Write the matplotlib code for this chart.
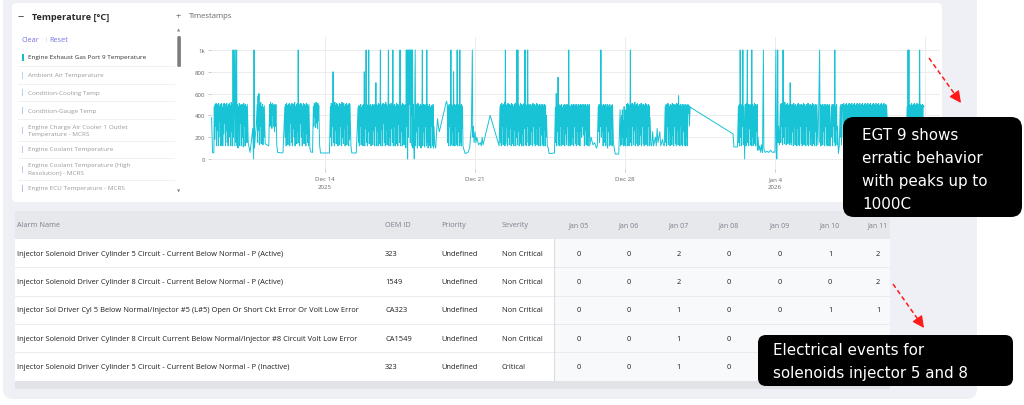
import matplotlib
matplotlib.use("Agg")
import matplotlib.pyplot as plt
from matplotlib.patches import FancyBboxPatch, Rectangle

FONT = ['Open Sans', 'DejaVu Sans']
CALLOUT_FONT = ['DejaVu Sans']
plt.rcParams['font.family'] = FONT

# ---------------------------------------------------------------- data
panel_title = "Temperature [°C]"
series_names = [
    "Engine Exhaust Gas Port 9 Temperature",
    "Ambient Air Temperature",
    "Condition-Cooling Temp",
    "Condition-Gauge Temp",
    "Engine Charge Air Cooler 1 Outlet\nTemperature - MCRS",
    "Engine Coolant Temperature",
    "Engine Coolant Temperature (High\nResolution) - MCRS",
    "Engine ECU Temperature - MCRS",
]
series_colors = ["#19b9c9", "#a6dde7", "#9edbe0", "#a9cdea",
                 "#c3c3ee", "#c3c3ee", "#c6c6ec", "#c6b6f0"]

# x axis: hours since Dec 8 2025 00:00 (the Jan 11 label is hidden behind the callout)
tick_hours = [144, 312, 480, 648, 816]
tick_labels = ["Dec 14\n2025", "Dec 21", "Dec 28", "Jan 4\n2026", ""]
y_ticks = [0, 200, 400, 600, 800, 1000]
y_tick_labels = ["0", "200", "400", "600", "800", "1k"]

# Engine Exhaust Gas Port 9 Temperature, (hour, degC)
egt_dec08_14 = [
    (17, 380), (18, 60), (19, 55), (19.5, 60),
    (20, 480), (20.5, 180), (21, 500), (21.5, 300), (22, 510), (22.5, 120), (23, 490), (23.5, 260),
    (24, 500), (24.5, 120), (25, 510), (25.5, 350), (26, 480), (26.5, 200), (27, 500), (27.5, 120),
    (28, 510), (28.5, 280), (29, 470), (29.5, 120), (30, 500), (30.5, 230), (31, 510), (31.5, 330),
    (32, 490), (32.5, 120), (33, 500), (33.5, 260), (34, 510), (34.5, 150), (35, 480), (35.5, 120),
    (36, 500), (36.5, 300), (37, 510), (37.5, 200), (38, 490), (38.5, 120), (39, 520), (39.5, 250),
    (40, 500), (40.5, 120),
    (41, 1000), (41.5, 200), (42, 1000), (42.5, 700), (43, 120), (43.5, 600), (44, 1000), (44.5, 150),
    (45, 1000), (45.5, 120),
    (46, 500), (46.5, 100), (47, 480), (47.5, 250), (48, 510), (48.5, 120), (49, 490), (49.5, 330),
    (50, 500), (50.5, 120), (51, 470), (51.5, 200), (52, 500), (52.5, 110), (53, 510), (53.5, 300),
    (54, 490), (54.5, 120), (55, 500), (55.5, 280), (56, 480), (56.5, 150), (57, 500),
    (58, 150), (60, 60), (62, 200), (63, 280), (64, 0), (64.5, 1000), (65, 100), (66, 220), (67, 300),
    (68, 500), (68.5, 150), (69, 580), (69.5, 260), (70, 600), (70.5, 130), (71, 500), (71.5, 300),
    (72, 520), (72.5, 140), (73, 480), (73.5, 250), (74, 500), (74.5, 130), (75, 470), (75.5, 200),
    (76, 490), (77, 140), (79, 130), (81, 120),
    (82, 500), (82.5, 300), (83, 520), (83.5, 350), (84, 500), (84.5, 280), (85, 510), (85.5, 400),
    (86, 490), (86.5, 300), (87, 500), (87.5, 250), (88, 480), (88.5, 300), (89, 500),
    (90, 120), (91, 60), (96, 55), (97, 60),
    (99, 480), (99.5, 200), (100, 500), (100.5, 120), (101, 510), (101.5, 300), (102, 490), (102.5, 130),
    (103, 500), (103.5, 250), (104, 510), (104.5, 120), (105, 480), (105.5, 330), (106, 500), (106.5, 150),
    (107, 510), (107.5, 120), (108, 490), (108.5, 280), (109, 500), (109.5, 200), (110, 520), (110.5, 120),
    (111, 480), (111.5, 300), (112, 500), (112.5, 140), (113, 510), (113.5, 250), (114, 1000), (114.5, 150),
    (115, 500), (115.5, 120), (116, 490), (116.5, 330), (117, 510), (117.5, 200), (118, 500), (118.5, 120),
    (119, 480), (119.5, 260), (120, 510), (120.5, 140), (121, 500), (121.5, 300), (122, 490), (122.5, 120),
    (123, 510), (123.5, 230), (124, 500), (124.5, 150), (125, 480), (125.5, 120), (126, 500),
    (127, 100), (128, 65), (130, 60),
    (131, 480), (131.5, 300), (132, 510), (132.5, 380), (133, 500), (133.5, 290), (134, 520), (134.5, 330),
    (135, 500), (135.5, 280), (136, 510), (136.5, 350), (137, 490),
    (138, 120), (139, 55), (149, 55),
]
egt_dec14_21 = [
    (150, 480), (150.5, 200), (151, 510), (151.5, 120), (152, 500), (152.5, 300), (153, 800), (153.5, 150),
    (154, 500), (154.5, 120), (155, 520), (155.5, 260), (156, 490), (156.5, 140), (157, 510), (157.5, 330),
    (158, 500), (158.5, 120), (159, 480), (159.5, 250), (160, 510), (160.5, 130), (161, 500), (161.5, 300),
    (162, 490), (162.5, 120), (163, 520), (163.5, 200), (164, 500), (164.5, 140), (165, 510), (165.5, 280),
    (166, 480), (166.5, 120), (167, 500), (167.5, 230), (168, 510), (168.5, 130), (169, 490), (169.5, 320),
    (170, 500), (170.5, 120), (171, 510), (171.5, 180), (172, 500),
    (173, 120), (174, 55), (179, 55),
    (181, 470), (181.5, 150), (182, 490), (182.5, 120), (183, 480), (183.5, 300), (184, 500), (184.5, 130),
    (185, 470), (185.5, 250), (186, 490), (186.5, 120), (187, 500), (187.5, 200), (188, 800), (188.5, 120),
    (189, 490), (189.5, 280), (190, 1000), (190.5, 150), (191, 500), (191.5, 120), (192, 480), (192.5, 250),
    (193, 1000), (193.5, 140), (194, 490), (194.5, 300), (195, 500), (195.5, 120), (196, 480), (196.5, 200),
    (197, 500), (197.5, 130), (198, 490), (198.5, 260), (199, 500), (199.5, 120), (200, 480), (200.5, 300),
    (201, 700), (201.5, 120),
    (202, 500), (202.5, 250), (203, 490), (203.5, 120), (204, 510), (204.5, 300), (205, 500), (205.5, 140),
    (206, 1000), (206.5, 120), (207, 480), (207.5, 270), (208, 500), (208.5, 120), (209, 510), (209.5, 330),
    (210, 490), (210.5, 150), (211, 500), (211.5, 120), (212, 520), (212.5, 260), (213, 500), (213.5, 130),
    (214, 480), (214.5, 300), (215, 1000), (215.5, 120), (216, 500), (216.5, 200), (217, 490), (217.5, 120),
    (218, 510), (218.5, 280), (219, 500), (219.5, 150), (220, 1000), (220.5, 120), (221, 490), (221.5, 300),
    (222, 500), (222.5, 120), (223, 480), (223.5, 250), (224, 510), (224.5, 140), (225, 500), (225.5, 120),
    (226, 490), (226.5, 320), (227, 500), (227.5, 150), (228, 1000), (228.5, 120), (229, 500), (229.5, 250),
    (230, 480), (230.5, 120), (231, 510), (231.5, 200), (232, 500), (232.5, 130), (233, 490), (233.5, 280),
    (234, 500), (234.5, 100),
    (235, 1000), (235.5, 300), (236, 1000), (236.5, 0), (237, 1000), (237.5, 200), (238, 1000), (238.5, 500),
    (239, 1000), (239.5, 150), (240, 1000), (240.5, 400), (241, 1000), (241.5, 120), (242, 1000), (242.5, 100),
    (243, 500), (243.5, 150), (244, 0), (244.5, 480), (245, 1000), (245.5, 120), (246, 500), (246.5, 250),
    (247, 490), (247.5, 100), (248, 510), (248.5, 300), (249, 500), (249.5, 120), (250, 480), (250.5, 200),
    (251, 500), (251.5, 100), (252, 490), (252.5, 280), (253, 1000), (253.5, 120), (254, 500), (254.5, 250),
    (255, 480), (255.5, 110), (256, 500), (256.5, 300), (257, 490), (257.5, 120), (258, 1000), (258.5, 150),
    (259, 500), (259.5, 100), (260, 480), (260.5, 260), (261, 500), (261.5, 120), (262, 470), (262.5, 100),
    (263, 490), (263.5, 300), (264, 480), (264.5, 120), (265, 500), (265.5, 100), (266, 300), (267, 120),
    (268, 100), (269, 250), (270, 370), (271, 300), (272, 250), (280, 530),
    (281, 500), (281.5, 150), (282, 480), (282.5, 120), (283, 500), (283.5, 300), (284, 490), (284.5, 120),
    (285, 1000), (285.5, 130), (286, 500), (286.5, 250), (287, 480), (287.5, 120), (288, 800), (288.5, 200),
    (289, 500), (289.5, 120), (290, 490), (290.5, 300), (291, 500), (291.5, 130), (292, 1000), (292.5, 120),
    (293, 480), (293.5, 250), (294, 500), (294.5, 120), (295, 1000), (295.5, 150), (296, 490), (296.5, 120),
    (297, 500), (297.5, 280), (298, 480), (298.5, 120),
    (299, 100), (301, 50), (304, 60), (306, 100),
    (308, 300), (309, 1000), (309.5, 200), (310, 300), (311, 150),
]
egt_dec21_28 = [
    (312, 250), (313, 150), (314, 200), (316, 130), (318, 150),
    (319, 120), (320, 200), (321, 130), (329, 400), (339, 120),
    (340, 480), (340.5, 150), (341, 500), (341.5, 120), (342, 510), (342.5, 300), (343, 490), (343.5, 130),
    (344, 500), (344.5, 250), (345, 520), (345.5, 120), (346, 1000), (346.5, 140), (347, 490), (347.5, 300),
    (348, 500), (348.5, 120), (349, 510), (349.5, 200), (350, 480), (350.5, 130), (351, 500), (351.5, 280),
    (352, 490), (352.5, 120), (353, 510), (353.5, 320), (354, 500), (354.5, 140), (355, 480), (355.5, 120),
    (356, 500), (356.5, 260), (357, 510), (357.5, 120), (358, 490), (358.5, 200), (359, 1000), (359.5, 130),
    (360, 1000), (360.5, 250), (361, 500), (361.5, 120), (362, 480), (362.5, 300), (363, 510), (363.5, 140),
    (364, 500), (364.5, 120), (365, 490), (365.5, 230), (366, 500), (366.5, 120), (367, 510), (367.5, 280),
    (368, 1000), (368.5, 130), (369, 500), (369.5, 120), (370, 480), (370.5, 300), (371, 1000), (371.5, 150),
    (372, 500), (372.5, 120), (373, 490),
    (374, 500), (374.5, 130), (375, 480), (375.5, 250), (376, 500), (376.5, 120), (377, 510), (377.5, 300),
    (378, 490), (378.5, 140), (379, 500), (379.5, 120), (380, 480), (380.5, 280), (381, 510), (381.5, 130),
    (382, 500), (382.5, 200), (383, 490), (383.5, 120), (384, 500), (384.5, 300), (385, 480), (385.5, 120),
    (386, 500), (386.5, 220), (387, 490), (387.5, 130), (388, 500), (388.5, 120), (389, 480), (389.5, 260),
    (390, 500), (390.5, 120), (391, 490), (391.5, 200), (392, 400), (393, 120), (394, 100), (395, 50),
    (396, 50), (401, 55),
    (402, 470), (402.5, 150), (403, 600), (403.5, 120), (404, 490), (404.5, 250), (405, 750), (405.5, 130),
    (406, 500), (406.5, 120), (407, 480), (407.5, 300), (408, 490), (408.5, 120), (409, 500), (409.5, 200),
    (410, 470), (410.5, 130), (411, 490), (411.5, 280), (412, 500), (412.5, 120), (413, 480), (413.5, 230),
    (414, 500), (414.5, 130), (415, 490), (415.5, 300), (416, 500), (416.5, 120), (417, 1000), (417.5, 150),
    (418, 490), (418.5, 120), (419, 480), (419.5, 260), (420, 500), (420.5, 130), (421, 490), (421.5, 200),
    (422, 500), (422.5, 120), (423, 480), (423.5, 300), (424, 500), (424.5, 140), (425, 490), (425.5, 120),
    (426, 500), (426.5, 250), (427, 480), (427.5, 130), (428, 500), (428.5, 200), (429, 490), (429.5, 120),
    (430, 500), (430.5, 250), (431, 490), (431.5, 200), (432, 500), (432.5, 300), (433, 480), (433.5, 220),
    (434, 500), (434.5, 120), (435, 490), (435.5, 260), (436, 500), (436.5, 130), (437, 480), (437.5, 300),
    (438, 500), (438.5, 120), (439, 490), (439.5, 200), (440, 500), (440.5, 120),
    (442, 200), (444, 130), (446, 150), (448, 100), (449, 120),
    (450, 480), (450.5, 250), (451, 500), (451.5, 150), (452, 490), (452.5, 300), (453, 1000), (453.5, 200),
    (454, 500), (454.5, 250), (455, 480), (455.5, 120), (456, 500), (456.5, 300), (457, 490), (457.5, 150),
    (458, 500), (458.5, 120), (459, 470), (459.5, 300), (460, 500), (460.5, 100), (461, 490), (461.5, 250),
    (462, 480), (462.5, 120), (463, 500), (463.5, 130), (464, 470), (464.5, 280), (465, 490), (465.5, 120),
    (466, 500), (467, 150), (468, 100), (469, 45), (473, 45),
    (474, 300), (474.5, 450), (475, 120), (476, 400), (476.5, 130), (477, 450), (477.5, 200), (478, 350),
    (478.5, 120), (479, 480), (479.5, 130),
]
egt_dec28_jan04 = [
    (480, 300), (480.5, 120), (481, 450), (481.5, 200), (482, 500), (482.5, 120), (483, 510), (483.5, 300),
    (484, 500), (484.5, 120), (485, 490), (485.5, 250), (486, 1000), (486.5, 150), (487, 500), (487.5, 120),
    (488, 510), (488.5, 300), (489, 490), (489.5, 130), (490, 500), (490.5, 260), (491, 520), (491.5, 120),
    (492, 490), (492.5, 300), (493, 500), (493.5, 140), (494, 510), (494.5, 120), (495, 480), (495.5, 280),
    (496, 500), (496.5, 130), (497, 490), (497.5, 220), (498, 510), (498.5, 120), (499, 500), (499.5, 300),
    (500, 480), (500.5, 140), (501, 500), (501.5, 120), (502, 490), (502.5, 250), (503, 510), (503.5, 130),
    (504, 500), (504.5, 200), (505, 480), (505.5, 120), (506, 500), (506.5, 300), (507, 490), (507.5, 120),
    (508, 380), (509, 130),
    (510, 120), (511, 250), (512, 120), (514, 200), (515, 120), (516, 280), (517, 150), (519, 250),
    (520, 120), (522, 180), (523, 130), (524, 120),
    (525, 480), (525.5, 150), (526, 500), (526.5, 120), (527, 490), (527.5, 300), (528, 510), (528.5, 130),
    (529, 500), (529.5, 250), (530, 480), (530.5, 120), (531, 500), (531.5, 280), (532, 490), (532.5, 130),
    (533, 510), (533.5, 220), (534, 500), (534.5, 120), (535, 480), (535.5, 300), (536, 500), (536.5, 140),
    (537, 490), (537.5, 120), (538, 510), (538.5, 260), (539, 500), (539.5, 130), (540, 580), (540.5, 200),
    (541, 490), (541.5, 120), (542, 500), (542.5, 300), (543, 480), (543.5, 130), (544, 500), (544.5, 120),
    (545, 490), (545.5, 250), (546, 500), (546.5, 130), (547, 480), (547.5, 120), (548, 500), (548.5, 200),
    (549, 490), (549.5, 120),
    (550, 400), (550.5, 500), (551, 420), (551.5, 490), (552, 300), (553, 480), (554, 470),
    (601, 230), (602, 110), (606, 110),
    (607, 480), (607.5, 150), (608, 500), (608.5, 120), (609, 1000), (609.5, 200), (610, 490), (610.5, 120),
    (611, 500), (611.5, 300), (612, 1000), (612.5, 130), (613, 480), (613.5, 250), (614, 0), (614.5, 500),
    (615, 490), (615.5, 120), (616, 510), (616.5, 300), (617, 1000), (617.5, 150), (618, 500), (618.5, 120),
    (619, 480), (619.5, 280), (620, 500), (620.5, 130), (621, 490), (621.5, 120), (622, 1000), (622.5, 200),
    (623, 500), (623.5, 120), (624, 480), (624.5, 300), (625, 510), (625.5, 140), (626, 500), (626.5, 120),
    (627, 490), (627.5, 250), (628, 500), (628.5, 80), (629, 200), (630, 80), (631, 120), (632, 60),
    (633, 130), (634, 60), (635, 1000), (635.5, 100), (636, 80), (637, 60), (639, 70), (641, 60),
    (643, 80), (645, 60), (647, 65), (648, 60),
]
egt_jan04_11 = [
    (649, 1000), (649.5, 100), (650, 0), (650.5, 200), (651, 1000), (651.5, 150), (652, 300), (653, 130),
    (654, 500), (654.5, 150), (655, 510), (655.5, 300), (656, 490), (656.5, 130), (657, 1000), (657.5, 200),
    (658, 500), (658.5, 140), (659, 520), (659.5, 300), (660, 490), (660.5, 130), (661, 500), (661.5, 250),
    (662, 510), (662.5, 140), (663, 490), (663.5, 300), (664, 500), (664.5, 130), (665, 700), (665.5, 150),
    (666, 500), (666.5, 130),
    (667, 480), (667.5, 250), (668, 500), (668.5, 120), (669, 510), (669.5, 300), (670, 490), (670.5, 130),
    (671, 500), (671.5, 220), (672, 480), (672.5, 120), (673, 500), (673.5, 280), (674, 510), (674.5, 130),
    (675, 490), (675.5, 120), (676, 500), (676.5, 300), (677, 480), (677.5, 140), (678, 500), (678.5, 120),
    (679, 490), (679.5, 250), (680, 510), (680.5, 130), (681, 500), (681.5, 200), (682, 480), (682.5, 120),
    (683, 500), (683.5, 300), (684, 490), (684.5, 130), (685, 510), (685.5, 120), (686, 500), (686.5, 260),
    (687, 480), (687.5, 130), (688, 500), (688.5, 200), (689, 490), (689.5, 120), (690, 510), (690.5, 300),
    (691, 500), (691.5, 140), (692, 480), (692.5, 120), (693, 500), (693.5, 250), (694, 490), (694.5, 120),
    (695, 500), (696, 130),
    (697, 480), (698, 1000), (698.5, 150), (699, 500), (699.5, 120), (700, 490), (700.5, 280), (701, 500),
    (701.5, 130), (702, 480), (702.5, 250), (703, 500), (703.5, 120), (704, 490), (704.5, 300), (705, 500),
    (705.5, 130), (706, 480), (706.5, 120), (707, 500), (707.5, 200), (708, 490), (708.5, 120), (709, 500),
    (710, 120), (711, 480), (711.5, 200), (712, 500), (712.5, 120), (713, 490), (713.5, 300), (714, 500),
    (714.5, 150), (715, 1000), (715.5, 120), (716, 480), (716.5, 260), (717, 500), (717.5, 130), (718, 300),
    (719, 50), (720, 120), (721, 480), (721.5, 200), (722, 500), (722.5, 130), (723, 490),
    (724, 500), (724.5, 200), (725, 510), (725.5, 150), (726, 490), (726.5, 300), (727, 500), (727.5, 180),
    (728, 510), (728.5, 250), (729, 490), (729.5, 150), (730, 500), (730.5, 330), (731, 510), (731.5, 200),
    (732, 490), (732.5, 160), (733, 500), (733.5, 300), (734, 510), (734.5, 180), (735, 490), (735.5, 250),
    (736, 500), (736.5, 160), (737, 510), (737.5, 320), (738, 490), (738.5, 200), (739, 500), (739.5, 150),
    (740, 510), (740.5, 280), (741, 490), (741.5, 180), (742, 500), (742.5, 300), (743, 510), (743.5, 160),
    (744, 490), (744.5, 250), (745, 500), (745.5, 200), (746, 510), (746.5, 150), (747, 490), (747.5, 320),
    (748, 500), (748.5, 180), (749, 510), (749.5, 260), (750, 490), (750.5, 160), (751, 500), (751.5, 300),
    (752, 510), (752.5, 200), (753, 490), (753.5, 150), (754, 500), (754.5, 280), (755, 510), (755.5, 180),
    (756, 490), (756.5, 250), (757, 500), (757.5, 160), (758, 510), (758.5, 300), (759, 490), (759.5, 200),
    (760, 500), (760.5, 150), (761, 510), (761.5, 270), (762, 490), (762.5, 180), (763, 500), (763.5, 300),
    (764, 510), (764.5, 160), (765, 490), (765.5, 240), (766, 500), (766.5, 200), (767, 510), (767.5, 150),
    (768, 490), (768.5, 300), (769, 500), (769.5, 180), (770, 510), (770.5, 250), (771, 490), (771.5, 160),
    (772, 500), (772.5, 300), (773, 490), (774, 300),
    (776, 150), (780, 120), (790, 120), (795, 150),
    (796, 480), (796.5, 250), (797, 1000), (797.5, 300), (798, 1000), (798.5, 200), (799, 500), (799.5, 250),
    (800, 490), (800.5, 220), (801, 510), (801.5, 300), (802, 490), (802.5, 200), (803, 500), (803.5, 280),
    (804, 510), (804.5, 230), (805, 490), (805.5, 300), (806, 500), (806.5, 220), (807, 510), (807.5, 260),
    (808, 490), (808.5, 200), (809, 500), (809.5, 300), (810, 1000), (810.5, 250), (811, 500), (811.5, 220),
    (812, 490), (812.5, 300), (813, 500), (813.5, 250), (814, 490), (815, 480),
]

table_columns = ["Alarm Name", "OEM ID", "Priority", "Severity"]
date_columns = ["Jan 05", "Jan 06", "Jan 07", "Jan 08", "Jan 09", "Jan 10", "Jan 11"]
alarm_names = [
    "Injector Solenoid Driver Cylinder 5 Circuit - Current Below Normal - P (Active)",
    "Injector Solenoid Driver Cylinder 8 Circuit - Current Below Normal - P (Active)",
    "Injector Sol Driver Cyl 5 Below Normal/Injector #5 (L#5) Open Or Short Ckt Error Or Volt Low Error",
    "Injector Solenoid Driver Cylinder 8 Circuit Current Below Normal/Injector #8 Circuit Volt Low Error",
    "Injector Solenoid Driver Cylinder 5 Circuit - Current Below Normal - P (Inactive)",
]
oem_ids = ["323", "1549", "CA323", "CA1549", "323"]
priorities = ["Undefined"] * 5
severities = ["Non Critical", "Non Critical", "Non Critical", "Non Critical", "Critical"]
# None = cell hidden behind the callout in the screenshot
daily_counts = [
    [0, 0, 2, 0, 0, 1, 2],
    [0, 0, 2, 0, 0, 0, 2],
    [0, 0, 1, 0, 0, 1, 1],
    [0, 0, 1, 0, None, None, None],
    [0, 0, 1, 0, None, None, None],
]

callout_egt = ["EGT 9 shows", "erratic behavior", "with peaks up to", "1000C"]
callout_alarm = ["Electrical events for", "solenoids injector 5 and 8"]

# ---------------------------------------------------------------- figure
W, H = 1024, 406
fig = plt.figure(figsize=(W / 100, H / 100), dpi=100)
fig.patch.set_facecolor("white")

bg = fig.add_axes([0, 0, 1, 1], zorder=0)
bg.set_xlim(0, W)
bg.set_ylim(H, 0)
bg.axis("off")


def rbox(ax, x, y, w, h, r, fc, z=1):
    ax.add_patch(FancyBboxPatch((x, y), w, h, boxstyle=f"round,pad=0,rounding_size={r}",
                                fc=fc, ec="none", zorder=z))


# outer grey panel and white chart card
rbox(bg, 3, -20, 974, 420, 10, "#eef0f5", 0)
rbox(bg, 12, 4, 930, 199, 5, "white", 1)

# panel header
bg.text(17, 17, "−", fontsize=8, color="#333", va="center", ha="left", family=FONT, zorder=3)
bg.text(32, 17, panel_title, fontsize=6.6, fontweight="bold", color="#2a2a2a", va="center", zorder=3)
bg.text(176, 17, "+", fontsize=6.8, color="#777", va="center", zorder=3)
bg.text(188.5, 17, "Timestamps", fontsize=5.5, color="#666", va="center", zorder=3)
bg.text(22, 40, "Clear", fontsize=5.2, color="#7474e8", va="center", zorder=3)
bg.text(44, 40, "|", fontsize=4.5, color="#bbb", va="center", zorder=3)
bg.text(49, 40, "Reset", fontsize=5.2, color="#7474e8", va="center", zorder=3)

# legend list
item_y = [58, 76, 93, 111, 131, 150, 170, 189]
sep_y = [67, 85, 102, 120, 142, 159, 181]
for yy in sep_y:
    bg.plot([18, 174], [yy, yy], color="#efefef", lw=0.6, zorder=2)
for i, (name, col) in enumerate(zip(series_names, series_colors)):
    yc = item_y[i]
    bw = 2.0 if i == 0 else 1.4
    bg.add_patch(Rectangle((21.5, yc - 3.5), bw, 7, fc=col, ec="none", zorder=3))
    lines = name.split("\n")
    n = len(lines)
    for j, line in enumerate(lines):
        bg.text(28, yc + (j - (n - 1) / 2) * 8, line, fontsize=4.55,
                color="#333" if i == 0 else "#9b9b9b", va="center", zorder=3)
# scrollbar
bg.text(179, 31, "▲", fontsize=3, color="#888", ha="center", va="center", family=FONT, zorder=3)
bg.text(179, 192, "▼", fontsize=3, color="#888", ha="center", va="center", family=FONT, zorder=3)
rbox(bg, 177.3, 37, 3.6, 31, 1.5, "#7d7d7d", 3)

# ---------------------------------------------------------------- chart
hours, temps = zip(*(egt_dec08_14 + egt_dec14_21 + egt_dec21_28 + egt_dec28_jan04 + egt_jan04_11))

ax_l, ax_r, ax_t, ax_b = 211, 940, 38, 170
ax = fig.add_axes([ax_l / W, 1 - ax_b / H, (ax_r - ax_l) / W, (ax_b - ax_t) / H], zorder=2)
ax.set_facecolor("none")
ax.plot(hours, temps, color="#17c3d5", lw=0.7, zorder=3)
ax.set_xlim(16.3, 832.8)
ax.set_ylim(-92, 1119)
ax.set_xticks(tick_hours)
ax.set_xticklabels(tick_labels)
ax.set_yticks(y_ticks)
ax.set_yticklabels(y_tick_labels)
ax.grid(True, color="#ececec", lw=0.7)
ax.set_axisbelow(True)
for s in ax.spines.values():
    s.set_visible(False)
ax.tick_params(axis="both", labelsize=4.4, labelcolor="#666", color="#c4c4c4",
               length=2.5, width=0.6, pad=1.5)
ax.tick_params(axis="x", pad=2.5)
for lab in ax.get_xticklabels():
    lab.set_linespacing(1.8)

# ---------------------------------------------------------------- table
tx0, tx1 = 15, 890
hdr_top, hdr_bot = 212, 240
row_h = 28.3
n_rows = len(alarm_names)
body_bot = hdr_bot + n_rows * row_h
sep_x = 554
bg.add_patch(Rectangle((tx0, hdr_top), tx1 - tx0, hdr_bot - hdr_top, fc="#e7e8ec", ec="none", zorder=2))
bg.add_patch(Rectangle((tx0, hdr_bot), sep_x - tx0, body_bot - hdr_bot, fc="white", ec="none", zorder=2))
bg.add_patch(Rectangle((sep_x, hdr_bot), tx1 - sep_x, body_bot - hdr_bot, fc="#f8f9fb", ec="none", zorder=2))
bg.add_patch(Rectangle((tx0, body_bot), tx1 - tx0, 8, fc="#e2e3e7", ec="none", zorder=2))
for r in range(1, n_rows):
    yy = hdr_bot + r * row_h
    bg.plot([tx0, tx1], [yy, yy], color="#eaebef", lw=0.7, zorder=3)
bg.plot([sep_x, sep_x], [hdr_bot, body_bot], color="#dcdde2", lw=0.8, zorder=3)

col_x = [17, 385, 441, 502]
date_x = [579, 628.5, 678.5, 729, 779.5, 830, 878]
hdr_y = (hdr_top + hdr_bot) / 2
for cx, name in zip(col_x, table_columns):
    bg.text(cx, hdr_y, name, fontsize=5.2, color="#7c808c", va="center", zorder=4)
for dx, name in zip(date_x, date_columns):
    bg.text(dx, hdr_y, name, fontsize=5.0, color="#7c808c", va="center", ha="center", zorder=4)
for r in range(n_rows):
    yc = hdr_bot + (r + 0.5) * row_h
    cells = [alarm_names[r], oem_ids[r], priorities[r], severities[r]]
    for cx, txt in zip(col_x, cells):
        bg.text(cx, yc, txt, fontsize=5.45, color="#1e1e1e", va="center", zorder=4)
    for dx, v in zip(date_x, daily_counts[r]):
        if v is None:
            continue
        bg.text(dx, yc, str(v), fontsize=5.3, color="#1e1e1e", va="center", ha="center", zorder=4)

# ---------------------------------------------------------------- callouts (top layer)
fg = fig.add_axes([0, 0, 1, 1], zorder=5)
fg.set_xlim(0, W)
fg.set_ylim(H, 0)
fg.axis("off")
fg.patch.set_alpha(0)

rbox(fg, 843, 118, 179, 100, 11, "black", 5)
for i, line in enumerate(callout_egt):
    fg.text(862, 140.5 + i * 22.8, line, fontsize=10.9, color="white", va="baseline", ha="left",
            family=CALLOUT_FONT, zorder=6)

rbox(fg, 758, 336, 255, 51, 8, "black", 5)
for i, line in enumerate(callout_alarm):
    fg.text(773, 355.5 + i * 23, line, fontsize=10.9, color="white", va="baseline", ha="left",
            family=CALLOUT_FONT, zorder=6)

red = "#ff1a1a"
for (x0, y0), (x1, y1) in [((929, 59), (961, 104)), ((893, 285), (924, 329))]:
    fx = x0 + (x1 - x0) * 0.8
    fy = y0 + (y1 - y0) * 0.8
    fg.plot([x0, fx], [y0, fy], color=red, lw=1.1, ls=(0, (3, 2)), zorder=6)
    fg.annotate("", xy=(x1, y1), xytext=(fx, fy),
                arrowprops=dict(arrowstyle="-|>,head_length=0.7,head_width=0.35",
                                color=red, lw=1.0, shrinkA=0, shrinkB=0), zorder=6)

fig.savefig("out.png", dpi=100, facecolor="white")
